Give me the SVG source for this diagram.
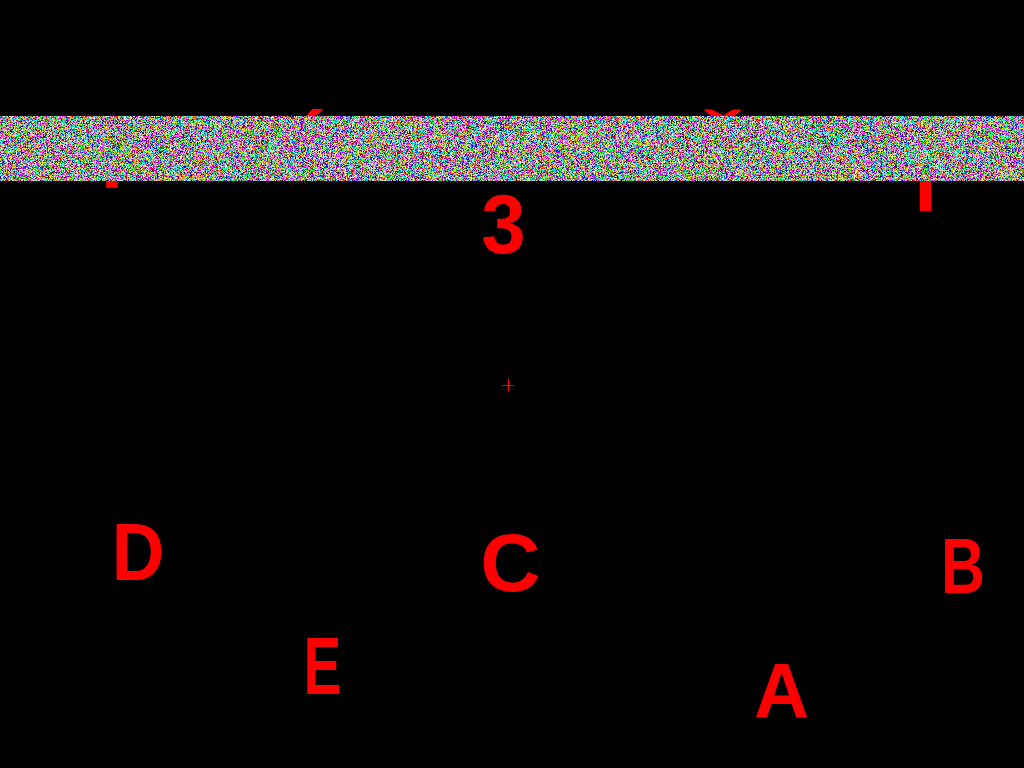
<svg xmlns="http://www.w3.org/2000/svg" width="1024" height="768" viewBox="0 0 1024 768">
  <style>
    .lbl { font-family: "Liberation Sans", Arial, sans-serif; font-weight: bold; fill: #ff0000; text-anchor: middle; }
    .cross { stroke: #ff0000; stroke-width: 1; fill: none; }
  </style>
  <defs>
    <filter id="noise" x="0" y="116" width="1024" height="65" filterUnits="userSpaceOnUse">
      <feTurbulence type="fractalNoise" baseFrequency="1.8" numOctaves="2" seed="7" result="t"/>
      <feComponentTransfer in="t">
        <feFuncR type="linear" slope="4.8" intercept="-2.0"/>
        <feFuncG type="linear" slope="4.8" intercept="-2.0"/>
        <feFuncB type="linear" slope="4.8" intercept="-2.0"/>
        <feFuncA type="table" tableValues="1 1"/>
      </feComponentTransfer>
    </filter>
  </defs>
  <rect id="background" x="0" y="0" width="1024" height="768" fill="#000000"/>

  <g id="top-1"><text class="lbl" x="112" y="188" font-size="81">I</text></g>
  <g id="top-2"><text class="lbl" x="309" y="180" font-size="80">É</text></g>
  <g id="top-3"><text class="lbl" transform="translate(503.5,253) scale(0.95,1)" x="0" y="0" font-size="84">3</text></g>
  <g id="top-4"><text class="lbl" transform="translate(720.5,179) scale(1.3,1)" x="0" y="0" font-size="78">Č</text></g>
  <g id="top-5"><text class="lbl" x="925.5" y="211" font-size="81">I</text></g>

  <g id="node-D"><text class="lbl" transform="translate(138,580) scale(0.9,1)" x="0" y="0" font-size="81">D</text></g>
  <g id="node-E"><text class="lbl" transform="translate(322.5,694) scale(0.7,1)" x="0" y="0" font-size="81">E</text></g>
  <g id="node-C"><text class="lbl" transform="translate(510.5,591) scale(1.02,1)" x="0" y="0" font-size="82">C</text></g>
  <g id="node-A"><text class="lbl" transform="translate(781.5,718) scale(0.98,1)" x="0" y="0" font-size="78">A</text></g>
  <g id="node-B"><text class="lbl" transform="translate(963,593) scale(0.78,1)" x="0" y="0" font-size="78">B</text></g>

  <g id="crosshair">
    <line class="cross" x1="502" y1="385.5" x2="514" y2="385.5"/>
    <line class="cross" x1="508.5" y1="379" x2="508.5" y2="391"/>
  </g>

  <g id="connectors"/>

  <rect id="noise-band" x="0" y="116.5" width="1024" height="64.5" fill="#808080" filter="url(#noise)"/>
</svg>
